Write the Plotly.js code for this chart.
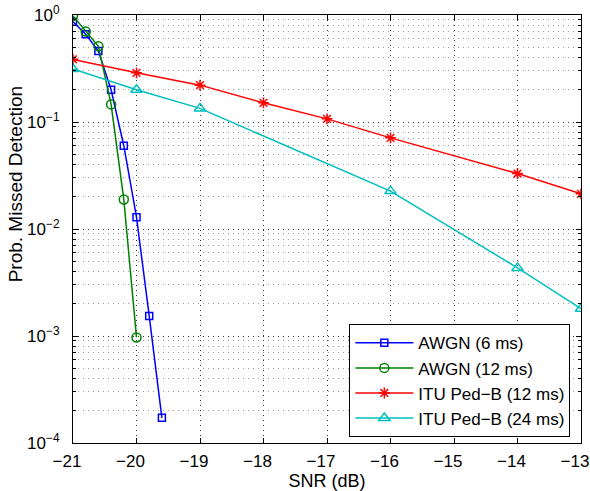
<!DOCTYPE html>
<html>
<head>
<meta charset="utf-8">
<script src="https://cdn.plot.ly/plotly-3.0.1.min.js"></script>
<style>html,body{margin:0;padding:0;background:#fff;}#plot{width:590px;height:491px;}</style>
</head>
<body>
<div id="plot"></div>
<script>
var seriesNames = ["AWGN (6 ms)", "AWGN (12 ms)", "ITU Ped\u2212B (12 ms)", "ITU Ped\u2212B (24 ms)"];
var awgn6X = [-21, -20.8, -20.6, -20.4, -20.2, -20.0, -19.8, -19.6];
var awgn6Y = [0.865, 0.66, 0.46, 0.20, 0.060, 0.0129, 0.00154, 0.000172];
var awgn12X = [-21, -20.8, -20.6, -20.4, -20.2, -20.0];
var awgn12Y = [0.98, 0.70, 0.51, 0.146, 0.0189, 0.00097];
var ped12X = [-21, -20, -19, -18, -17, -16, -14, -13];
var ped12Y = [0.385, 0.288, 0.221, 0.151, 0.107, 0.0711, 0.033, 0.0213];
var ped24X = [-21, -20, -19, -16, -14, -13];
var ped24Y = [0.313, 0.20, 0.134, 0.0226, 0.00433, 0.0018];
var xTicks = [-21, -20, -19, -18, -17, -16, -15, -14, -13];
var xTickText = ["\u221221", "\u221220", "\u221219", "\u221218", "\u221217", "\u221216", "\u221215", "\u221214", "\u221213"];
var yTicks = [1e-4, 1e-3, 1e-2, 1e-1, 1];
var yTickText = ["10<sup>\u22124</sup>", "10<sup>\u22123</sup>", "10<sup>\u22122</sup>", "10<sup>\u22121</sup>", "10<sup>0</sup>"];
var xTitle = "SNR (dB)";
var yTitle = "Prob. Missed Detection";

var font = "Liberation Sans, Arial, Helvetica, sans-serif";
function tr(x, y, name, color, symbol, size) {
  return {x: x, y: y, name: name, type: "scatter", mode: "lines+markers",
    line: {color: color, width: 1.5},
    marker: {symbol: symbol, size: size, color: color, line: {color: color, width: 1.5}}};
}
var data = [
  tr(awgn6X, awgn6Y, seriesNames[0], "#0000ff", "square-open", 7),
  tr(awgn12X, awgn12Y, seriesNames[1], "#008000", "circle-open", 9),
  tr(ped12X, ped12Y, seriesNames[2], "#ff0000", "asterisk-open", 9),
  tr(ped24X, ped24Y, seriesNames[3], "#00bfbf", "triangle-up-open", 10)
];
var layout = {
  width: 590, height: 491,
  margin: {l: 73, r: 9, t: 15, b: 48},
  paper_bgcolor: "#fff", plot_bgcolor: "#fff",
  font: {family: font, size: 17, color: "#000"},
  showlegend: true,
  legend: {x: 0.979, y: 0.2775, xanchor: "right", yanchor: "top",
    bordercolor: "#000", borderwidth: 1, bgcolor: "#fff", itemwidth: 58,
    font: {family: font, size: 17, color: "#000"}, tracegroupgap: 0},
  xaxis: {range: [-21, -13], tickvals: xTicks, ticktext: xTickText,
    ticks: "inside", ticklen: 5, tickcolor: "#000", ticklabeloverflow: "allow",
    ticklabelstandoff: 3, ticklabelshift: -6,
    tickfont: {family: font, size: 17},
    showline: true, linecolor: "#000", linewidth: 1, mirror: "ticks",
    showgrid: true, gridcolor: "#333", griddash: "1px,4px", gridwidth: 1,
    zeroline: false,
    title: {text: xTitle, font: {family: font, size: 18}, standoff: 0}},
  yaxis: {type: "log", range: [-4, 0], tickvals: yTicks, ticktext: yTickText,
    ticks: "inside", ticklen: 5, tickcolor: "#000", ticklabelstandoff: 9,
    tickfont: {family: font, size: 17},
    showline: true, linecolor: "#000", linewidth: 1, mirror: "ticks",
    showgrid: true, gridcolor: "#333", griddash: "1px,4px", gridwidth: 1,
    zeroline: false,
    minor: {dtick: "D1", ticks: "inside", ticklen: 3, tickcolor: "#000", showgrid: true, gridcolor: "#999", griddash: "1px,4px", gridwidth: 1}},
  annotations: [{text: yTitle, xref: "paper", yref: "paper", x: -0.1136, y: 0.605,
    xanchor: "center", yanchor: "middle", textangle: -90, showarrow: false,
    font: {family: font, size: 19, color: "#000"}}]
};
Plotly.newPlot("plot", data, layout, {staticPlot: true, displayModeBar: false});
</script>
</body>
</html>
